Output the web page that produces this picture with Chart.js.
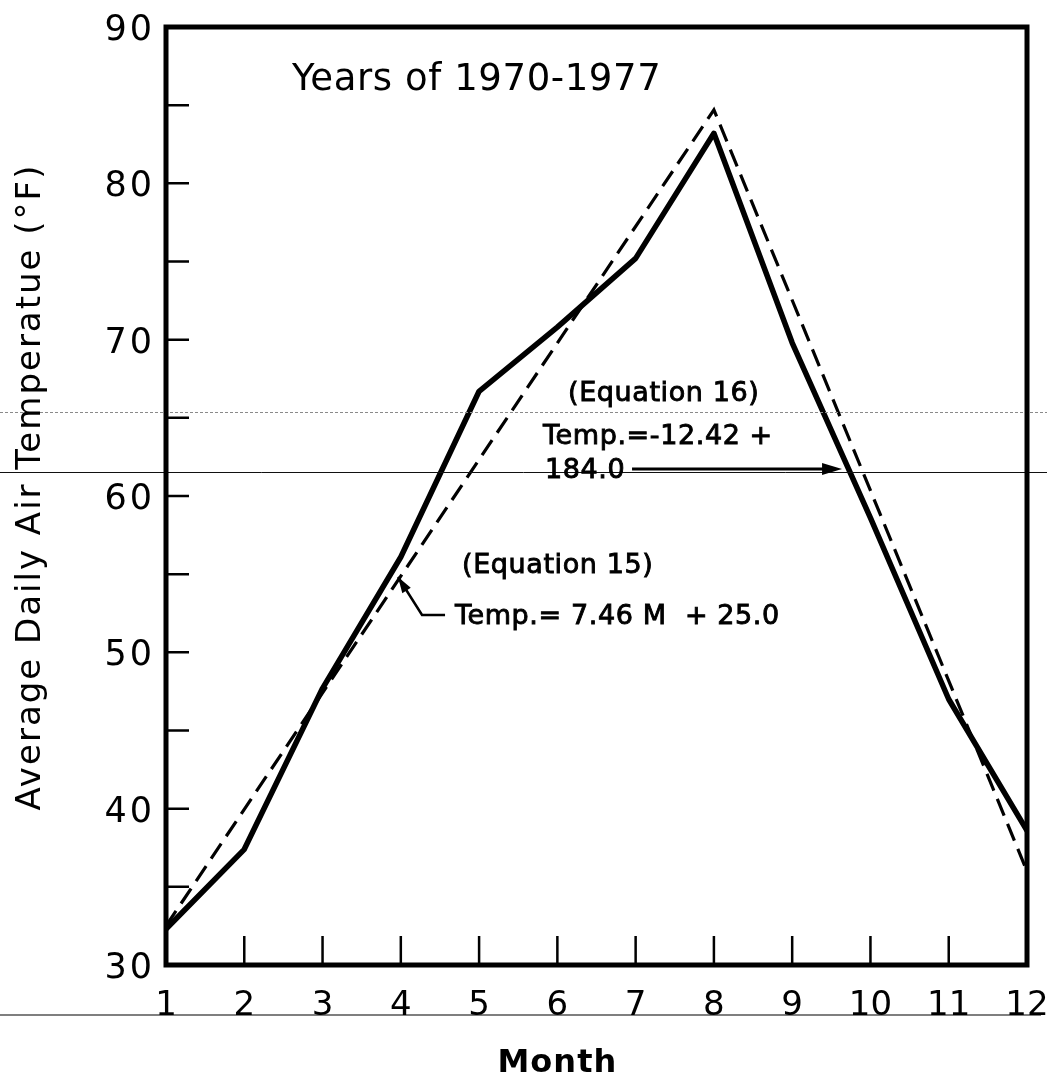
<!DOCTYPE html>
<html>
<head>
<meta charset="utf-8">
<script src="https://cdn.jsdelivr.net/npm/chart.js@4.4.1/dist/chart.umd.min.js"></script>
<style>
html,body{margin:0;padding:0;background:#fff;}
#wrap{width:1047px;height:1078px;position:relative;}
canvas{display:block;}
</style>
</head>
<body>
<div id="wrap"><canvas id="c" width="1047" height="1078"></canvas></div>
<script>
// ---- data ----
const months = [1, 2, 3, 4, 5, 6, 7, 8, 9, 10, 11, 12];
const observedTemp = [32.3, 37.4, 47.7, 56.1, 66.7, 70.8, 75.2, 83.2, 69.8, 58.6, 47.0, 38.6];
const modelMonths = [1, 8, 12];
const modelTemp = [32.5, 84.7, 36.0];
const xTickValues = [1, 2, 3, 4, 5, 6, 7, 8, 9, 10, 11, 12];
const xTickLabels = ['1', '2', '3', '4', '5', '6', '7', '8', '9', '10', '11', '12'];
const yTickValues = [30, 40, 50, 60, 70, 80, 90];
const yTickLabels = ['30', '40', '50', '60', '70', '80', '90'];
const yMarkValues = [35, 40, 45, 50, 55, 60, 65, 70, 75, 80, 85];
const xMarkValues = [2, 3, 4, 5, 6, 7, 8, 9, 10, 11];
const xTitle = 'Month';
const yTitle = 'Average Daily Air Temperatue (°F)';
const noteText = 'Years of 1970-1977';
const eq16Lines = ['(Equation 16)', 'Temp.=-12.42 +', '184.0'];
const eq15Lines = ['(Equation 15)', 'Temp.= 7.46 M  + 25.0'];

const FONT = '"DejaVu Sans", "Liberation Sans", sans-serif';

const paperPlugin = {
  id: 'paper',
  beforeDraw(chart) {
    const ctx = chart.ctx;
    ctx.save();
    ctx.fillStyle = '#fff';
    ctx.fillRect(0, 0, chart.width, chart.height);
    ctx.restore();
  },
  afterDraw(chart) {
    const ctx = chart.ctx;
    const xs = chart.scales.x, ys = chart.scales.y;
    const ca = chart.chartArea;
    const X = v => xs.getPixelForValue(v);
    const Y = v => ys.getPixelForValue(v);
    ctx.save();

    // scan artifacts (faint horizontal lines across the sheet)
    ctx.strokeStyle = '#8a8a8a';
    ctx.lineWidth = 1.2;
    ctx.setLineDash([3, 2]);
    ctx.beginPath();
    ctx.moveTo(0, Math.round(Y(65.37)) + 0.5);
    ctx.lineTo(chart.width, Math.round(Y(65.37)) + 0.5);
    ctx.stroke();
    ctx.setLineDash([]);
    ctx.strokeStyle = '#111';
    ctx.lineWidth = 1;
    ctx.beginPath();
    ctx.moveTo(0, Math.round(Y(61.54)) + 0.5);
    ctx.lineTo(chart.width, Math.round(Y(61.54)) + 0.5);
    ctx.stroke();
    ctx.strokeStyle = '#555';
    ctx.lineWidth = 1.5;
    ctx.beginPath();
    ctx.moveTo(0, ca.bottom + 50);
    ctx.lineTo(chart.width - 6, ca.bottom + 50);
    ctx.stroke();

    // frame
    ctx.strokeStyle = '#000';
    ctx.lineWidth = 5;
    ctx.lineJoin = 'miter';
    ctx.strokeRect(ca.left, ca.top, ca.right - ca.left, ca.bottom - ca.top);

    // inner tick marks
    ctx.lineWidth = 2.5;
    ctx.beginPath();
    yMarkValues.forEach(v => {
      const py = Y(v);
      ctx.moveTo(ca.left, py);
      ctx.lineTo(ca.left + 23, py);
    });
    xMarkValues.forEach(v => {
      const px = X(v);
      ctx.moveTo(px, ca.bottom);
      ctx.lineTo(px, ca.bottom - 29);
    });
    ctx.stroke();

    // tick labels
    ctx.fillStyle = '#000';
    ctx.font = '35px ' + FONT;
    ctx.letterSpacing = '3px';
    ctx.textAlign = 'right';
    ctx.textBaseline = 'alphabetic';
    yTickValues.forEach((v, i) => {
      ctx.fillText(yTickLabels[i], ca.left - 11, Y(v) + 13);
    });
    ctx.letterSpacing = '0px';
    ctx.font = '34px ' + FONT;
    ctx.textAlign = 'center';
    xTickValues.forEach((v, i) => {
      ctx.fillText(xTickLabels[i], X(v), ca.bottom + 50);
    });

    // axis titles
    ctx.font = 'bold 32px ' + FONT;
    ctx.letterSpacing = '1px';
    ctx.fillText(xTitle, X(6), chart.height - 6);
    ctx.save();
    ctx.translate(31, (ca.top + ca.bottom) / 2 - 9);
    ctx.rotate(-Math.PI / 2);
    ctx.font = '34px ' + FONT;
    ctx.letterSpacing = '2px';
    ctx.textBaseline = 'middle';
    ctx.fillText(yTitle, 0, 0);
    ctx.restore();

    // note
    ctx.textAlign = 'left';
    ctx.textBaseline = 'alphabetic';
    ctx.font = '37px ' + FONT;
    ctx.letterSpacing = '0.6px';
    ctx.fillText(noteText, X(2.61), Y(85.97));

    // equation annotations
    ctx.font = '27px ' + FONT;
    ctx.letterSpacing = '0.6px';
    ctx.lineWidth = 0.9;
    ctx.strokeStyle = '#000';
    const txt = (s, mx, vy) => {
      ctx.fillText(s, X(mx), Y(vy));
      ctx.strokeText(s, X(mx), Y(vy));
    };
    txt(eq16Lines[0], 6.136, 66.07);
    txt(eq16Lines[1], 5.817, 63.33);
    txt(eq16Lines[2], 5.842, 61.15);
    txt(eq15Lines[0], 4.782, 55.05);
    txt(eq15Lines[1], 4.692, 51.81);

    // arrow to curve (Equation 16)
    ctx.lineWidth = 3;
    ctx.beginPath();
    const ay = Y(61.73);
    ctx.moveTo(X(6.954), ay);
    ctx.lineTo(X(9.637) - 14, ay);
    ctx.stroke();
    ctx.beginPath();
    ctx.moveTo(X(9.637), ay);
    ctx.lineTo(X(9.637) - 20, ay - 6);
    ctx.lineTo(X(9.637) - 20, ay + 6);
    ctx.closePath();
    ctx.fill();

    // arrow to curve (Equation 15)
    ctx.lineWidth = 2.5;
    ctx.beginPath();
    const p1 = [X(4.565), Y(52.39)], p2 = [X(4.271), Y(52.39)], tip = [X(3.964), Y(54.82)];
    ctx.moveTo(p1[0], p1[1]);
    ctx.lineTo(p2[0], p2[1]);
    ctx.lineTo(tip[0], tip[1]);
    ctx.stroke();
    const ang = Math.atan2(tip[1] - p2[1], tip[0] - p2[0]);
    ctx.beginPath();
    ctx.moveTo(tip[0], tip[1]);
    ctx.lineTo(tip[0] - 16 * Math.cos(ang) + 5 * Math.sin(ang), tip[1] - 16 * Math.sin(ang) - 5 * Math.cos(ang));
    ctx.lineTo(tip[0] - 16 * Math.cos(ang) - 5 * Math.sin(ang), tip[1] - 16 * Math.sin(ang) + 5 * Math.cos(ang));
    ctx.closePath();
    ctx.fill();

    ctx.restore();
  }
};

new Chart(document.getElementById('c'), {
  type: 'line',
  data: {
    datasets: [
      {
        label: 'Observed',
        data: months.map((m, i) => ({ x: m, y: observedTemp[i] })),
        borderColor: '#000',
        borderWidth: 5.5,
        pointRadius: 0,
        tension: 0,
        borderJoinStyle: 'round',
        borderCapStyle: 'round',
        fill: false
      },
      {
        label: 'Equations 15 and 16',
        data: modelMonths.map((m, i) => ({ x: m, y: modelTemp[i] })),
        borderColor: '#000',
        borderWidth: 3.2,
        borderDash: [18, 9],
        pointRadius: 0,
        tension: 0,
        fill: false
      }
    ]
  },
  options: {
    responsive: false,
    animation: false,
    devicePixelRatio: 1,
    layout: { padding: { left: 166, right: 20, top: 27, bottom: 113 } },
    plugins: { legend: { display: false }, tooltip: { enabled: false } },
    scales: {
      x: { type: 'linear', min: 1, max: 12, display: false },
      y: { type: 'linear', min: 30, max: 90, display: false }
    }
  },
  plugins: [paperPlugin]
});
</script>
</body>
</html>
